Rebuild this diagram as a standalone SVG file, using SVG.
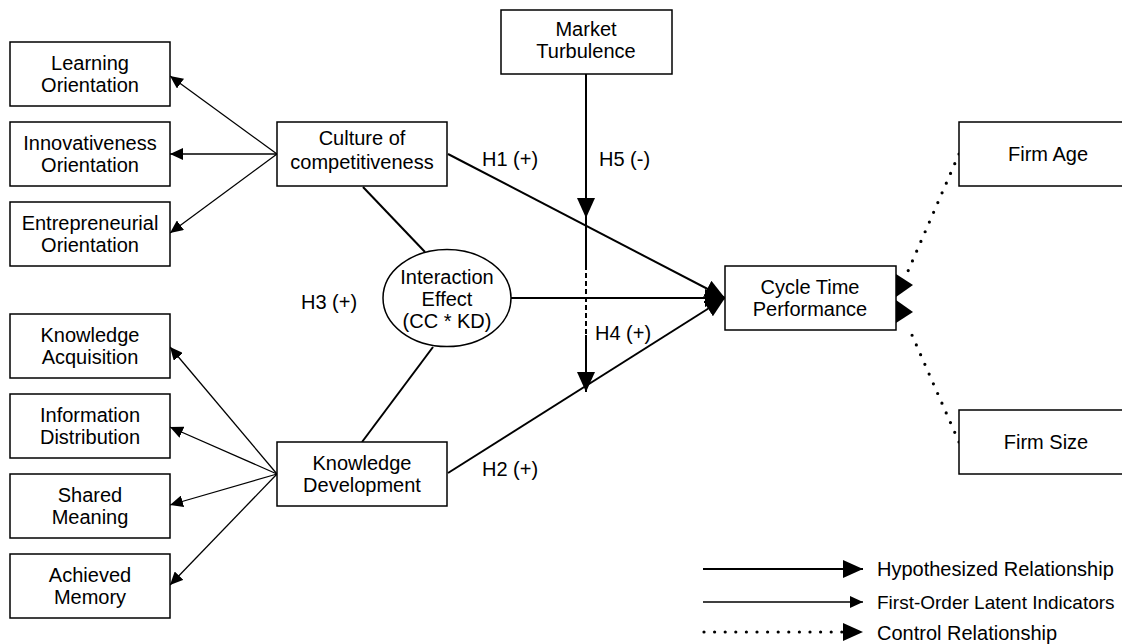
<svg xmlns="http://www.w3.org/2000/svg" width="1122" height="644" viewBox="0 0 1122 644">
<style>
.box{fill:#fff;stroke:#000;stroke-width:1.5}
.t{font-family:"Liberation Sans",Arial,sans-serif;font-size:20px;fill:#000;text-anchor:middle}
.l{font-family:"Liberation Sans",Arial,sans-serif;font-size:20px;fill:#000}
.hyp{stroke:#000;stroke-width:2;fill:none}
.fo{stroke:#000;stroke-width:1.3;fill:none}
.ctl{stroke:#000;stroke-width:3.2;fill:none;stroke-linecap:round;stroke-dasharray:0 10.6}
</style>
<defs>
<marker id="big" markerUnits="userSpaceOnUse" markerWidth="20" markerHeight="18" refX="20" refY="9" orient="auto"><path d="M0,0 L20,9 L0,18 z" fill="#000"/></marker>
<marker id="small" markerUnits="userSpaceOnUse" markerWidth="13" markerHeight="12" refX="13" refY="6" orient="auto"><path d="M0,0 L13,6 L0,12 z" fill="#000"/></marker>
</defs>
<rect width="1122" height="644" fill="#fff"/>
<g id="connectors">
<line class="fo" x1="277" y1="154" x2="170" y2="76" marker-end="url(#small)"/>
<line class="fo" x1="277" y1="154" x2="170" y2="154" marker-end="url(#small)"/>
<line class="fo" x1="277" y1="154" x2="170" y2="233" marker-end="url(#small)"/>
<line class="fo" x1="277" y1="474" x2="170" y2="347" marker-end="url(#small)"/>
<line class="fo" x1="277" y1="474" x2="170" y2="427" marker-end="url(#small)"/>
<line class="fo" x1="277" y1="474" x2="170" y2="505" marker-end="url(#small)"/>
<line class="fo" x1="277" y1="474" x2="170" y2="585" marker-end="url(#small)"/>
<line class="hyp" x1="363" y1="187" x2="425" y2="252"/>
<line class="hyp" x1="433" y1="347" x2="362" y2="442"/>
<line class="hyp" x1="448" y1="154" x2="725" y2="298" marker-end="url(#big)"/>
<line class="hyp" x1="511" y1="298" x2="725" y2="298" marker-end="url(#big)"/>
<line class="hyp" x1="448" y1="473" x2="725" y2="298" marker-end="url(#big)"/>
<line class="hyp" x1="586" y1="74" x2="586" y2="218" stroke-width="2.3" marker-end="url(#big)"/>
<line class="hyp" x1="586" y1="218" x2="586" y2="265" stroke-width="2.3"/>
<line class="hyp" x1="586" y1="265" x2="586" y2="335" stroke-width="2.3" stroke-dasharray="5 3"/>
<line class="hyp" x1="586" y1="335" x2="586" y2="392" stroke-width="2.3" marker-end="url(#big)"/>
<line class="ctl" x1="959" y1="154" x2="905" y2="278"/>
<line class="ctl" x1="959" y1="442" x2="908" y2="326"/>
<polygon points="896,274 913,285 896,297" fill="#000"/>
<polygon points="896,300 913,312 896,323" fill="#000"/>
</g>
<g id="learning-orientation"><rect class="box" x="10" y="42" width="160" height="64"/><text class="t" x="90" y="70">Learning</text><text class="t" x="90" y="92">Orientation</text></g>
<g id="innovativeness-orientation"><rect class="box" x="10" y="122" width="160" height="64"/><text class="t" x="90" y="150">Innovativeness</text><text class="t" x="90" y="172">Orientation</text></g>
<g id="entrepreneurial-orientation"><rect class="box" x="10" y="202" width="160" height="64"/><text class="t" x="90" y="230">Entrepreneurial</text><text class="t" x="90" y="252">Orientation</text></g>
<g id="knowledge-acquisition"><rect class="box" x="10" y="314" width="160" height="64"/><text class="t" x="90" y="342">Knowledge</text><text class="t" x="90" y="364">Acquisition</text></g>
<g id="information-distribution"><rect class="box" x="10" y="394" width="160" height="64"/><text class="t" x="90" y="422">Information</text><text class="t" x="90" y="444">Distribution</text></g>
<g id="shared-meaning"><rect class="box" x="10" y="474" width="160" height="64"/><text class="t" x="90" y="502">Shared</text><text class="t" x="90" y="524">Meaning</text></g>
<g id="achieved-memory"><rect class="box" x="10" y="554" width="160" height="64"/><text class="t" x="90" y="582">Achieved</text><text class="t" x="90" y="604">Memory</text></g>
<g id="culture-of-competitiveness"><rect class="box" x="277" y="122" width="170" height="64"/><text class="t" x="362" y="145">Culture of</text><text class="t" x="362" y="169">competitiveness</text></g>
<g id="knowledge-development"><rect class="box" x="277" y="442" width="170" height="64"/><text class="t" x="362" y="470">Knowledge</text><text class="t" x="362" y="492">Development</text></g>
<g id="interaction-effect"><ellipse cx="447" cy="298" rx="64" ry="48.5" fill="#fff" stroke="#000" stroke-width="1.5"/><text class="t" x="447" y="284">Interaction</text><text class="t" x="447" y="306">Effect</text><text class="t" x="447" y="328">(CC * KD)</text></g>
<g id="market-turbulence"><rect class="box" x="501" y="10" width="171" height="64"/><text class="t" x="586" y="36">Market</text><text class="t" x="586" y="58">Turbulence</text></g>
<g id="cycle-time-performance"><rect class="box" x="725" y="266" width="171" height="64"/><text class="t" x="810" y="294">Cycle Time</text><text class="t" x="810" y="316">Performance</text></g>
<g id="firm-age"><rect class="box" x="959" y="122" width="175" height="64"/><text class="t" x="1048" y="161">Firm Age</text></g>
<g id="firm-size"><rect class="box" x="959" y="410" width="175" height="64"/><text class="t" x="1046" y="449">Firm Size</text></g>
<g id="labels">
<text class="l" x="482" y="166">H1 (+)</text>
<text class="l" x="599" y="166">H5 (-)</text>
<text class="l" x="301" y="309">H3 (+)</text>
<text class="l" x="595" y="340">H4 (+)</text>
<text class="l" x="482" y="476">H2 (+)</text>
</g>
<g id="legend">
<line class="hyp" x1="703" y1="569" x2="863" y2="569" marker-end="url(#big)"/>
<line class="fo" x1="703" y1="602" x2="863" y2="602" marker-end="url(#small)"/>
<line class="ctl" x1="704" y1="632" x2="845" y2="632"/>
<polygon points="843,623 863,632 843,641" fill="#000"/>
<text class="l" x="877" y="576">Hypothesized Relationship</text>
<text class="l" x="877" y="608.5" style="font-size:19px">First-Order Latent Indicators</text>
<text class="l" x="877" y="639.5">Control Relationship</text>
</g>
</svg>
